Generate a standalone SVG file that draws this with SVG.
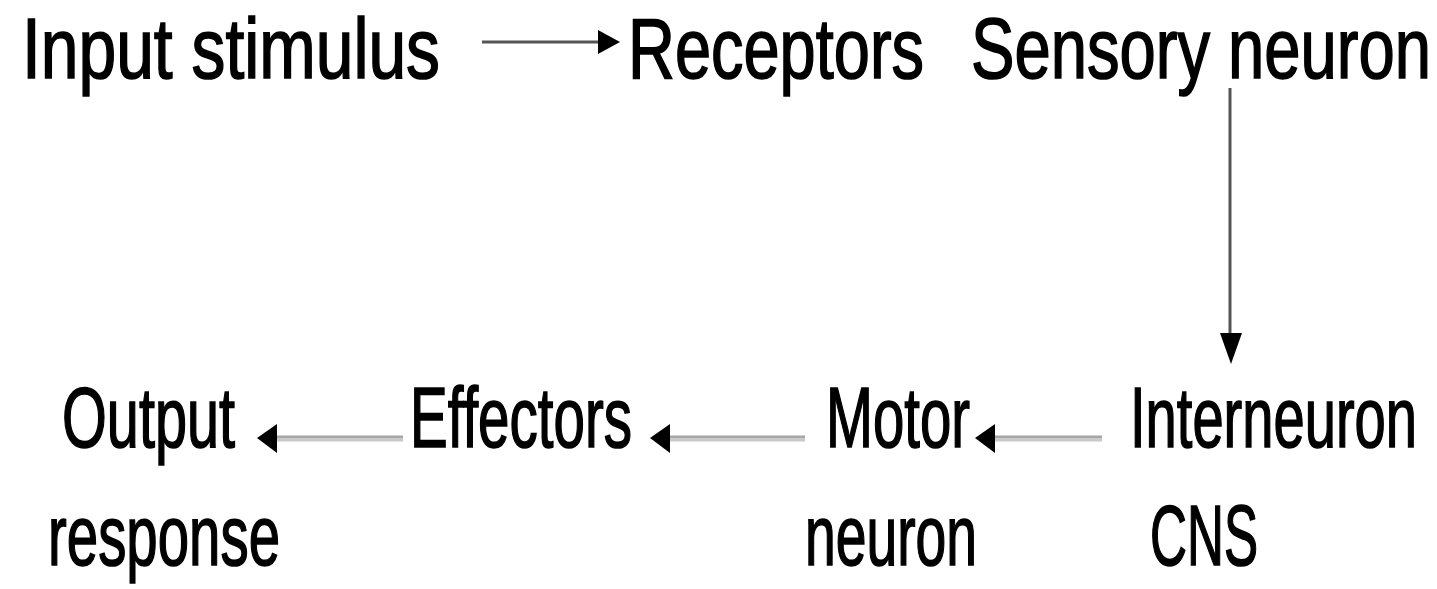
<svg xmlns="http://www.w3.org/2000/svg" width="1437" height="589" viewBox="0 0 1437 589">
<style>
text{font-family:"Liberation Sans",Arial,sans-serif;font-size:86px;fill:#000;stroke:#000;stroke-width:1.6px;}
.dk{stroke:#555;stroke-width:3;fill:none;}
.lt1{stroke:#a6a6a6;stroke-width:3;fill:none;}
.lt2{stroke:#c8c8c8;stroke-width:3;fill:none;}
.hd{fill:#000;}
</style>
<rect width="1437" height="589" fill="#fff"/>
<g id="connectors">
<line class="dk" x1="482" y1="42" x2="602" y2="42"/>
<polygon class="hd" points="620,42 598,30 598,54"/>
<line class="dk" x1="1230" y1="88" x2="1230" y2="335"/>
<polygon class="hd" points="1231,364 1220,333 1242,333"/>
<line class="lt1" x1="403" y1="437" x2="274" y2="437"/>
<line class="lt2" x1="403" y1="440" x2="274" y2="440"/>
<polygon class="hd" points="257,438 277,424 277,453"/>
<line class="lt1" x1="805" y1="437" x2="668" y2="437"/>
<line class="lt2" x1="805" y1="440" x2="668" y2="440"/>
<polygon class="hd" points="650,438 670,424 670,453"/>
<line class="lt1" x1="1102" y1="437" x2="993" y2="437"/>
<line class="lt2" x1="1102" y1="440" x2="993" y2="440"/>
<polygon class="hd" points="975,438 995,424 995,453"/>
</g>
<g id="input"><text x="22" y="78" textLength="418" lengthAdjust="spacingAndGlyphs">Input stimulus</text></g>
<g id="receptors"><text x="628" y="78" textLength="296" lengthAdjust="spacingAndGlyphs">Receptors</text></g>
<g id="sensory"><text x="971" y="78" textLength="460" lengthAdjust="spacingAndGlyphs">Sensory neuron</text></g>
<g id="interneuron"><text x="1130" y="447" textLength="287" lengthAdjust="spacingAndGlyphs">Interneuron</text><text x="1150" y="565" textLength="108" lengthAdjust="spacingAndGlyphs">CNS</text></g>
<g id="motor"><text x="826" y="447" textLength="144" lengthAdjust="spacingAndGlyphs">Motor</text><text x="805" y="565" textLength="172" lengthAdjust="spacingAndGlyphs">neuron</text></g>
<g id="effectors"><text x="410" y="447" textLength="222" lengthAdjust="spacingAndGlyphs">Effectors</text></g>
<g id="output"><text x="62" y="447" textLength="173" lengthAdjust="spacingAndGlyphs">Output</text><text x="48" y="565" textLength="232" lengthAdjust="spacingAndGlyphs">response</text></g>
</svg>
